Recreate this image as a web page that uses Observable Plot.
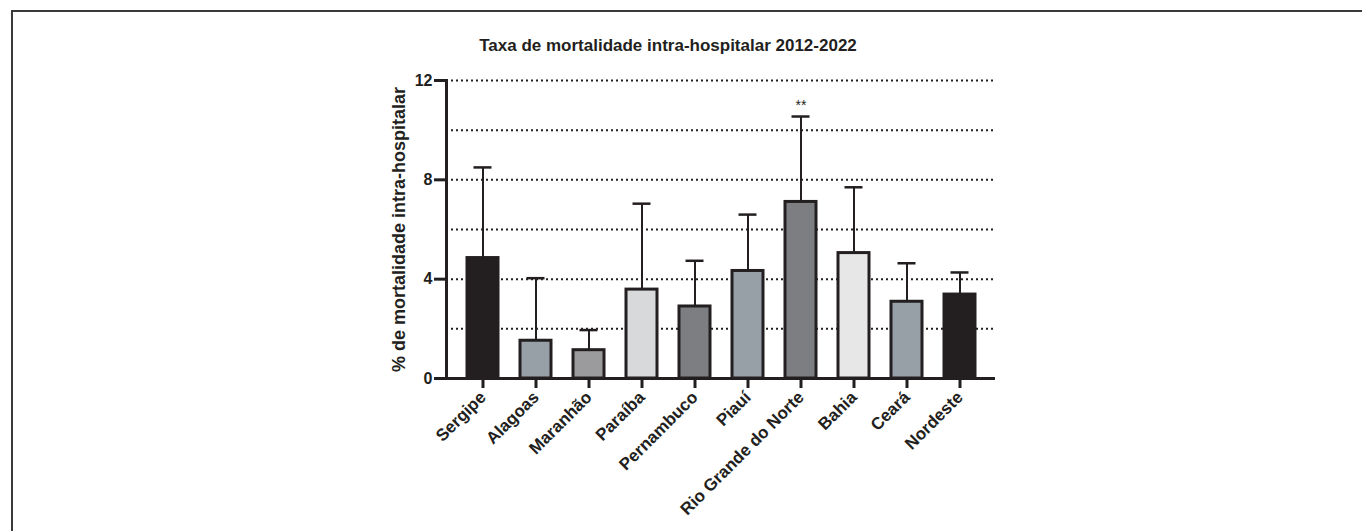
<!DOCTYPE html>
<html lang="pt">
<head>
<meta charset="utf-8">
<script src="https://cdn.jsdelivr.net/npm/d3@7"></script>
<script src="https://cdn.jsdelivr.net/npm/@observablehq/plot@0.6"></script>
<style>
  html, body { margin: 0; padding: 0; background: #fff; }
  #wrap { position: relative; width: 1362px; height: 531px; overflow: hidden; font-family: "Liberation Sans", Arial, sans-serif; color: #231f20; }
  #border { position: absolute; left: 11px; top: 10px; width: 1400px; height: 600px; border-top: 2px solid #3a3a3a; border-left: 2px solid #3a3a3a; }
  #title { position: absolute; left: 0; width: 1336px; top: 36px; text-align: center; font-weight: bold; font-size: 17px; }
  #chart { position: absolute; left: 0; top: 0; }
</style>
</head>
<body>
<div id="wrap">
  <div id="border"></div>
  <div id="chart"></div>
  <div id="title">Taxa de mortalidade intra-hospitalar 2012-2022</div>
</div>
<script>
// Estados do Nordeste e a taxa média de mortalidade intra-hospitalar (%)
const estados = ["Sergipe", "Alagoas", "Maranhão", "Paraíba", "Pernambuco", "Piauí", "Rio Grande do Norte", "Bahia", "Ceará", "Nordeste"];
const taxa = [4.85, 1.52, 1.14, 3.58, 2.90, 4.33, 7.11, 5.05, 3.09, 3.38];
// Desvio padrão (apenas a barra superior é desenhada)
const desvio = [3.65, 2.52, 0.81, 3.46, 1.84, 2.27, 3.44, 2.65, 1.55, 0.89];
const cores = ["#231f20", "#979fa7", "#9b9b9d", "#d8d9da", "#7d7e81", "#979fa7", "#7d7e81", "#e7e7e8", "#979fa7", "#231f20"];
const significancia = ["", "", "", "", "", "", "**", "", "", ""];
const yTicks = [0, 4, 8, 12];
const yGrid = [2, 4, 6, 8, 10, 12];
const yLabel = "% de mortalidade intra-hospitalar";

const rows = estados.map((estado, i) => ({
  estado,
  taxa: taxa[i],
  superior: taxa[i] + desvio[i],
  cor: cores[i],
  sig: significancia[i]
}));

const ink = "#231f20";
const font = "'Liberation Sans', Arial, sans-serif";

const chart = Plot.plot({
  width: 1362,
  height: 531,
  marginLeft: 446,
  marginRight: 367,
  marginTop: 80,
  marginBottom: 153,
  style: { fontFamily: font, color: ink, background: "transparent", overflow: "visible" },
  x: { domain: estados, paddingInner: 0.42, paddingOuter: 0.36, label: null },
  y: { domain: [0, 12], label: null },
  color: { type: "identity" },
  marks: [
    Plot.gridY(yGrid, { stroke: ink, strokeOpacity: 1, strokeWidth: 2, strokeDasharray: "2,3" }),
    Plot.ruleX(rows, { x: "estado", y1: "taxa", y2: "superior", stroke: ink, strokeWidth: 2 }),
    Plot.barY(rows, { x: "estado", y: "taxa", fill: "cor", stroke: ink, strokeWidth: 3 }),
    Plot.tickY(rows, { x: "estado", y: "superior", stroke: ink, strokeWidth: 2.5, insetLeft: 6.5, insetRight: 6.5 }),
    Plot.text(rows, { x: "estado", y: "superior", text: "sig", dy: -7, lineAnchor: "bottom", fontSize: 14, fill: ink }),
    Plot.ruleY([0], { stroke: ink, strokeWidth: 3 }),
    Plot.frame({ anchor: "left", stroke: ink, strokeWidth: 3 }),
    Plot.axisY({ ticks: yTicks, tickSize: 12, tickPadding: 2, strokeWidth: 3, fontSize: 16, fontWeight: "bold", label: null }),
    Plot.axisX({ tickSize: 10, tickPadding: 6, strokeWidth: 3, tickRotate: -45, fontSize: 17, fontWeight: "bold", label: null }),
    Plot.text([yLabel], { frameAnchor: "left", dx: -47, rotate: -90, textAnchor: "middle", lineAnchor: "middle", fontSize: 18, fontWeight: "bold", fill: ink })
  ]
});

document.getElementById("chart").appendChild(chart);
</script>
</body>
</html>
